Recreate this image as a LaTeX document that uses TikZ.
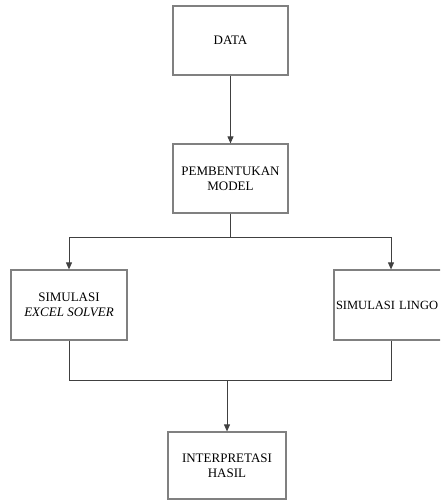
\documentclass[tikz,border=0pt]{standalone}
\usepackage{fontspec}
\setmainfont{Liberation Serif}
\usetikzlibrary{arrows.meta}
\begin{document}
\begin{tikzpicture}[x=1pt,y=-1pt,
  box/.style={draw=black!50, line width=1.2pt, inner sep=0pt, align=center,
              font=\fontsize{13}{15}\selectfont},
  conn/.style={draw=black!75, line width=0.9pt},
  arr/.style={conn, -{Triangle[length=7pt,width=6pt]}}]
\clip (0,0) rectangle (440,501);
\node[box, minimum width=115pt, minimum height=69pt] (data) at (230.5,40.5) {DATA};
\node[box, minimum width=115pt, minimum height=69pt] (model) at (230.5,178.5) {PEMBENTUKAN\\MODEL};
\node[box, minimum width=116pt, minimum height=70pt] (left) at (69,305) {SIMULASI\\\textit{EXCEL SOLVER}};
\node[box, minimum width=114pt, minimum height=70pt, inner xsep=2pt, text width=110pt, align=left,
      font=\fontsize{12.5}{15}\selectfont] (right) at (391,305) {SIMULASI LINGO};
\node[box, minimum width=118pt, minimum height=67pt] (interp) at (227,465.5) {INTERPRETASI\\HASIL};
\coordinate (split) at (230.5,237);
\coordinate (join) at (227,380);
\draw[arr] (data.south) -- (model.north);
\draw[conn] (model.south) -- (split);
\draw[arr] (split) -| (left.north);
\draw[arr] (split) -| (right.north);
\draw[conn] (left.south) |- (join);
\draw[conn] (right.south) |- (join);
\draw[arr] (join) -- (interp.north);
\end{tikzpicture}
\end{document}
